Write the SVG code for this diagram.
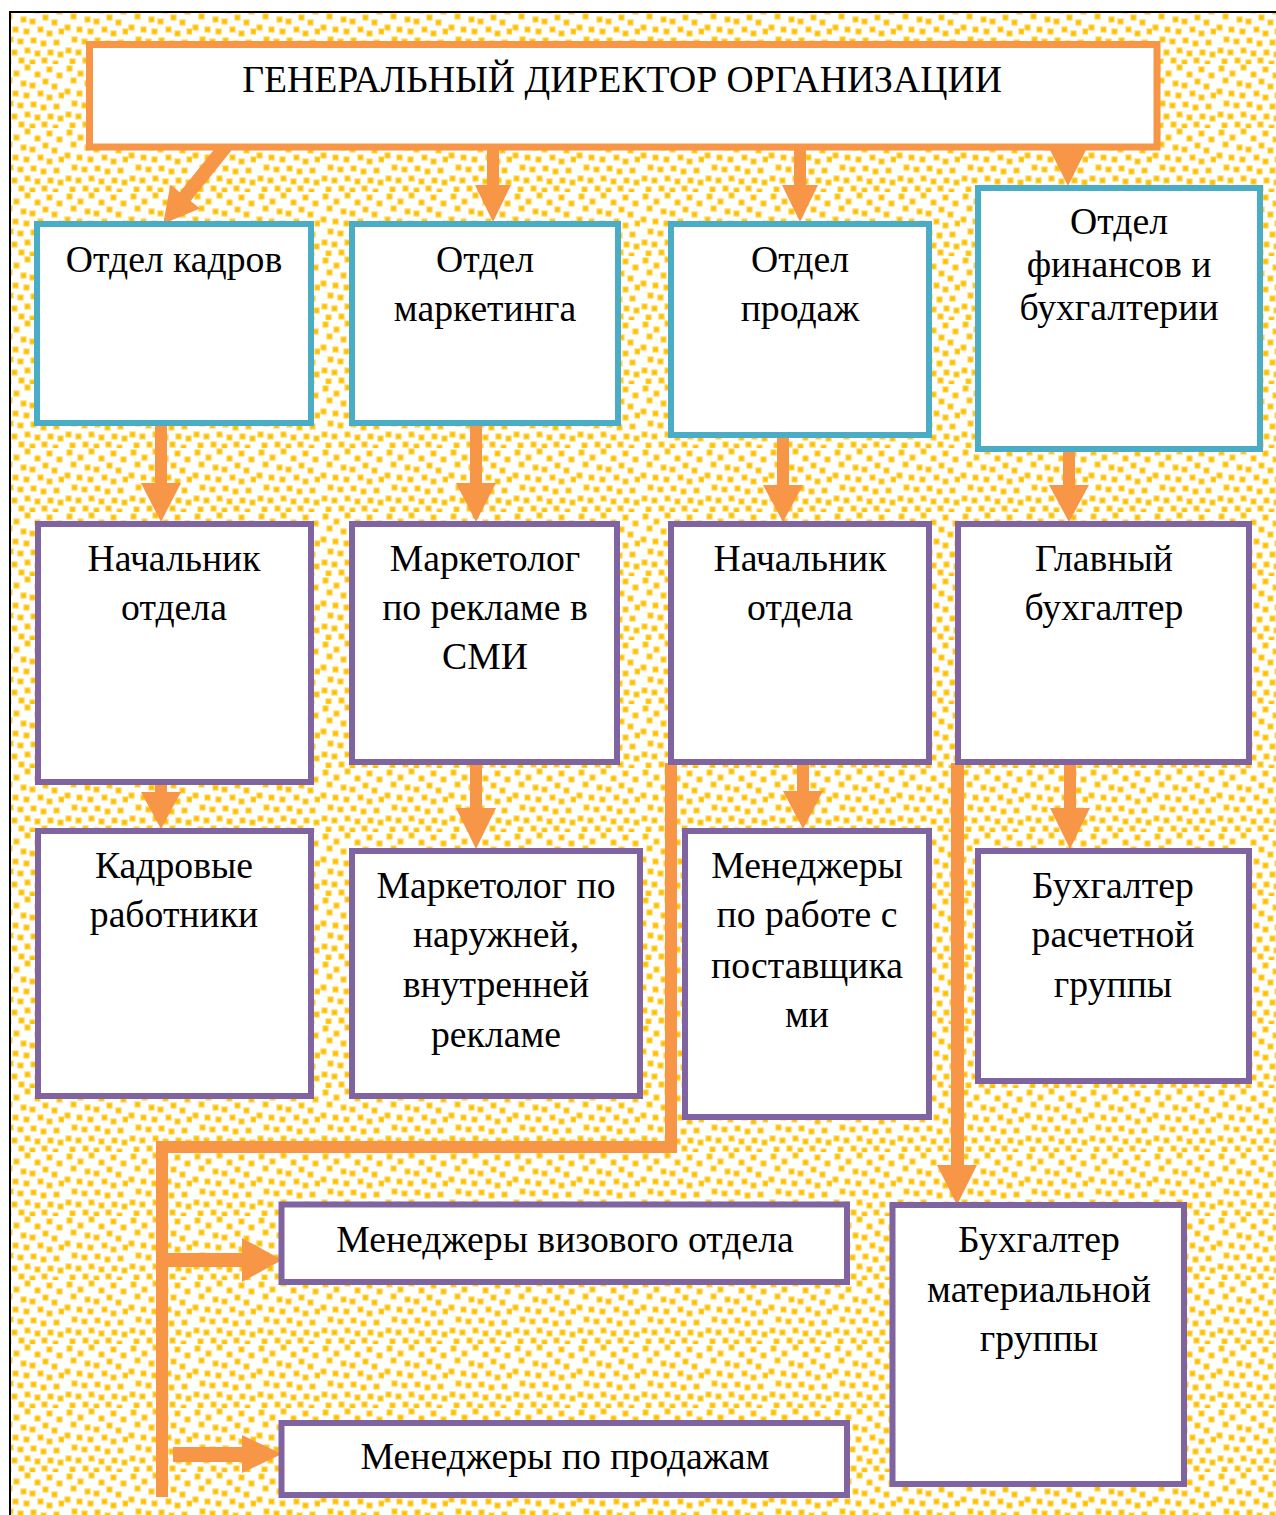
<svg xmlns="http://www.w3.org/2000/svg" width="1276" height="1515" viewBox="0 0 1276 1515">
<defs>
<pattern id="dots" x="0" y="0" width="64" height="64" patternUnits="userSpaceOnUse">
<rect width="64" height="64" fill="#ffffff"/>
<g fill="#FFC000" stroke="#FFD54F" stroke-width="1.2">
<rect x="3" y="2" width="5" height="5"/>
<rect x="14" y="7" width="5" height="5"/>
<rect x="25" y="1" width="5" height="5"/>
<rect x="35" y="8" width="5" height="5"/>
<rect x="47" y="3" width="5" height="5"/>
<rect x="57" y="9" width="5" height="5"/>
<rect x="7" y="14" width="5" height="5"/>
<rect x="21" y="17" width="5" height="5"/>
<rect x="30" y="19" width="5" height="5"/>
<rect x="43" y="15" width="5" height="5"/>
<rect x="52" y="20" width="5" height="5"/>
<rect x="1" y="25" width="5" height="5"/>
<rect x="13" y="27" width="5" height="5"/>
<rect x="24" y="29" width="5" height="5"/>
<rect x="38" y="27" width="5" height="5"/>
<rect x="47" y="31" width="5" height="5"/>
<rect x="59" y="29" width="5" height="5"/>
<rect x="8" y="37" width="5" height="5"/>
<rect x="18" y="39" width="5" height="5"/>
<rect x="31" y="38" width="5" height="5"/>
<rect x="41" y="41" width="5" height="5"/>
<rect x="54" y="40" width="5" height="5"/>
<rect x="2" y="48" width="5" height="5"/>
<rect x="12" y="50" width="5" height="5"/>
<rect x="25" y="48" width="5" height="5"/>
<rect x="35" y="51" width="5" height="5"/>
<rect x="48" y="50" width="5" height="5"/>
<rect x="58" y="52" width="5" height="5"/>
<rect x="6" y="59" width="5" height="5"/>
<rect x="19" y="58" width="5" height="5"/>
<rect x="30" y="60" width="5" height="5"/>
<rect x="42" y="58" width="5" height="5"/>
<rect x="53" y="61" width="5" height="5"/>
</g>
</pattern>
<style>
.bg{fill:url(#dots);stroke:#000;stroke-width:2}
.top{fill:#fff;stroke:#F79646;stroke-width:7}
.dept{fill:#fff;stroke:#4BACC6;stroke-width:6}
.sub{fill:#fff;stroke:#8064A2;stroke-width:6}
.t{font-family:"Liberation Serif","Times New Roman",serif;font-size:37.7px;text-anchor:middle;fill:#000}
.arr{fill:#F79646}
.ln{fill:none;stroke:#F79646;stroke-width:12;stroke-linejoin:miter}
</style>
</defs>
<rect class="bg" x="10" y="12" width="1280" height="1520"/>

<g id="connectors">
<path class="arr" transform="translate(226,146) rotate(38.9)" d="M-7,0 H7 V65 H19 L0,100 L-19,65 H-7 Z"/>
<path class="arr" d="M487,148 H499 V185 H511 L493,222 L475,185 H487 Z"/>
<path class="arr" d="M794,148 H806 V185 H818 L800,222 L782,185 H794 Z"/>
<path class="arr" d="M1050,150 H1086 L1068,186 Z"/>
<path class="arr" d="M155,426 H167 V483 H181 L161,522 L141,483 H155 Z"/>
<path class="arr" d="M470,426 H482 V483 H496 L476,522 L456,483 H470 Z"/>
<path class="arr" d="M777,438 H789 V485 H803 L783,522 L763,485 H777 Z"/>
<path class="arr" d="M1063,452 H1075 V485 H1089 L1069,522 L1049,485 H1063 Z"/>
<path class="arr" d="M155,785 H167 V792 H181 L161,829 L141,792 H155 Z"/>
<path class="arr" d="M470,750 H482 V808 H496 L476,849 L456,808 H470 Z"/>
<path class="arr" d="M797,763 H809 V791 H823 L803,829 L783,791 H797 Z"/>
<path class="arr" d="M1064,765 H1076 V808 H1090 L1070,849 L1050,808 H1064 Z"/>
<path class="ln" d="M671,763 V1147 H162 V1497"/>
<path class="arr" d="M168,1253 H242 V1238 L282,1260 L242,1282 V1267 H168 Z"/>
<path class="arr" d="M173,1447 H242 V1435 L282,1454 L242,1473 V1462 H173 Z"/>
<path class="arr" d="M951,763 H964 V1165 H977 L957,1205 L937,1165 H951 Z"/>
</g>

<g id="director">
<rect class="top" x="89.5" y="44.5" width="1067.5" height="102.5"/>
<text class="t" x="622" y="92">ГЕНЕРАЛЬНЫЙ ДИРЕКТОР ОРГАНИЗАЦИИ</text>
</g>

<g id="hr">
<rect class="dept" x="37" y="224" width="274" height="199"/>
<text class="t" x="174" y="272">Отдел кадров</text>
</g>
<g id="marketing">
<rect class="dept" x="352" y="224" width="266" height="199"/>
<text class="t" x="485" y="272">Отдел</text>
<text class="t" x="485" y="321">маркетинга</text>
</g>
<g id="sales">
<rect class="dept" x="671" y="224" width="258" height="211"/>
<text class="t" x="800" y="272">Отдел</text>
<text class="t" x="800" y="321">продаж</text>
</g>
<g id="finance">
<rect class="dept" x="978" y="188" width="282" height="261"/>
<text class="t" x="1119" y="234">Отдел</text>
<text class="t" x="1119" y="277">финансов и</text>
<text class="t" x="1119" y="320">бухгалтерии</text>
</g>

<g id="hr-head">
<rect class="sub" x="38" y="524" width="273" height="258"/>
<text class="t" x="174" y="571">Начальник</text>
<text class="t" x="174" y="620">отдела</text>
</g>
<g id="marketer-media">
<rect class="sub" x="352" y="524" width="265" height="238"/>
<text class="t" x="485" y="571">Маркетолог</text>
<text class="t" x="485" y="620">по рекламе в</text>
<text class="t" x="485" y="669">СМИ</text>
</g>
<g id="sales-head">
<rect class="sub" x="671" y="524" width="258" height="238"/>
<text class="t" x="800" y="571">Начальник</text>
<text class="t" x="800" y="620">отдела</text>
</g>
<g id="chief-accountant">
<rect class="sub" x="958" y="524" width="291" height="238"/>
<text class="t" x="1104" y="571">Главный</text>
<text class="t" x="1104" y="620">бухгалтер</text>
</g>

<g id="hr-staff">
<rect class="sub" x="38" y="831" width="273" height="265"/>
<text class="t" x="174" y="878">Кадровые</text>
<text class="t" x="174" y="927">работники</text>
</g>
<g id="marketer-outdoor">
<rect class="sub" x="352" y="851" width="288" height="245"/>
<text class="t" x="496" y="898">Маркетолог по</text>
<text class="t" x="496" y="947">наружней,</text>
<text class="t" x="496" y="997">внутренней</text>
<text class="t" x="496" y="1047">рекламе</text>
</g>
<g id="supplier-managers">
<rect class="sub" x="685" y="831" width="244" height="286"/>
<text class="t" x="807" y="878">Менеджеры</text>
<text class="t" x="807" y="927">по работе с</text>
<text class="t" x="807" y="978">поставщика</text>
<text class="t" x="807" y="1027">ми</text>
</g>
<g id="payroll-accountant">
<rect class="sub" x="978" y="851" width="271" height="230"/>
<text class="t" x="1113" y="898">Бухгалтер</text>
<text class="t" x="1113" y="947">расчетной</text>
<text class="t" x="1113" y="997">группы</text>
</g>

<g id="visa-managers">
<rect class="sub" x="281.5" y="1204.5" width="565.5" height="77.5"/>
<text class="t" x="565" y="1252">Менеджеры визового отдела</text>
</g>
<g id="sales-managers">
<rect class="sub" x="281.5" y="1423" width="565.5" height="72"/>
<text class="t" x="565" y="1469">Менеджеры по продажам</text>
</g>
<g id="material-accountant">
<rect class="sub" x="892.5" y="1205" width="291.5" height="279"/>
<text class="t" x="1039" y="1252">Бухгалтер</text>
<text class="t" x="1039" y="1302">материальной</text>
<text class="t" x="1039" y="1351">группы</text>
</g>
</svg>
